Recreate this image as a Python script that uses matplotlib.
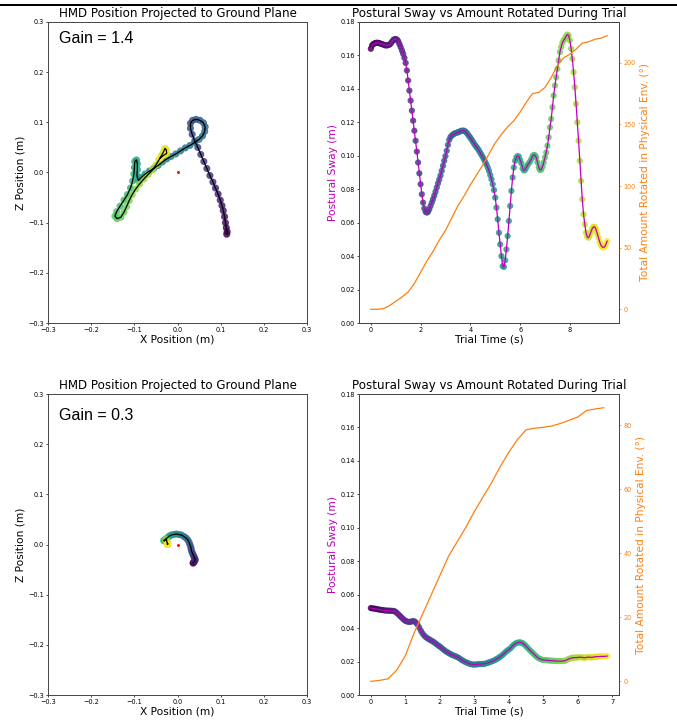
import numpy as np
import matplotlib
matplotlib.use("Agg")
import matplotlib.pyplot as plt
from matplotlib.patches import Rectangle

# ---------------- data ----------------
# Gain 1.4 trial: HMD ground-plane path (m)
pos1_x = [0.114, 0.115, 0.113, 0.111, 0.109, 0.106, 0.103, 0.099, 0.094, 0.088,
          0.082, 0.075, 0.068, 0.061, 0.054, 0.047, 0.040, 0.034, 0.030, 0.030,
          0.035, 0.043, 0.052, 0.060, 0.064, 0.063, 0.058, 0.050, 0.040, 0.029,
          0.018, 0.007, -0.004, -0.015, -0.025, -0.035, -0.045, -0.055, -0.065, -0.075,
          -0.084, -0.091, -0.094, -0.093, -0.093, -0.095, -0.099, -0.100, -0.101, -0.104,
          -0.109, -0.116, -0.124, -0.133, -0.141, -0.145, -0.140, -0.131, -0.124, -0.118,
          -0.112, -0.105, -0.097, -0.088, -0.078, -0.068, -0.058, -0.050, -0.043, -0.037,
          -0.032, -0.029, -0.026, -0.025, -0.031, -0.040]
pos1_z = [-0.123, -0.118, -0.110, -0.100, -0.088, -0.076, -0.066, -0.055, -0.043, -0.031,
          -0.019, -0.006, 0.008, 0.022, 0.036, 0.050, 0.063, 0.076, 0.088, 0.098,
          0.104, 0.106, 0.104, 0.099, 0.091, 0.082, 0.073, 0.066, 0.060, 0.054,
          0.049, 0.043, 0.037, 0.032, 0.027, 0.021, 0.014, 0.008, 0.003, -0.003,
          -0.010, -0.016, -0.006, 0.006, 0.017, 0.025, 0.022, 0.010, -0.003, -0.017,
          -0.031, -0.044, -0.055, -0.067, -0.078, -0.087, -0.092, -0.089, -0.079, -0.068,
          -0.056, -0.044, -0.033, -0.023, -0.013, -0.004, 0.005, 0.015, 0.025, 0.034,
          0.042, 0.048, 0.045, 0.038, 0.035, 0.029]

# Gain 0.3 trial: HMD ground-plane path (m)
pos2_x = [0.036, 0.037, 0.039, 0.041, 0.040, 0.038, 0.036, 0.034, 0.032, 0.031,
          0.029, 0.027, 0.024, 0.020, 0.015, 0.009, 0.003, -0.003, -0.009, -0.014,
          -0.019, -0.023, -0.027, -0.030, -0.032, -0.031, -0.029, -0.027, -0.026, -0.025,
          -0.025, -0.024, -0.023, -0.022, -0.023, -0.024, -0.023]
pos2_z = [-0.037, -0.036, -0.034, -0.031, -0.028, -0.024, -0.020, -0.016, -0.011, -0.006,
          -0.001, 0.004, 0.009, 0.013, 0.016, 0.019, 0.020, 0.021, 0.020, 0.019,
          0.017, 0.014, 0.011, 0.009, 0.008, 0.007, 0.008, 0.010, 0.011, 0.009,
          0.006, 0.004, 0.002, 0.001, 0.000, 0.001, 0.002]

# Postural sway (m), sampled every 0.05 s
sway_dt = 0.05
sway1 = [0.1640, 0.1660, 0.1668, 0.1672, 0.1675, 0.1676, 0.1675, 0.1673, 0.1670, 0.1668,
         0.1665, 0.1662, 0.1660, 0.1660, 0.1662, 0.1665, 0.1672, 0.1682, 0.1692, 0.1697,
         0.1698, 0.1695, 0.1685, 0.1668, 0.1650, 0.1630, 0.1610, 0.1585, 0.1555, 0.1510,
         0.1450, 0.1390, 0.1330, 0.1270, 0.1210, 0.1150, 0.1090, 0.1025, 0.0960, 0.0895,
         0.0830, 0.0770, 0.0720, 0.0685, 0.0665, 0.0660, 0.0665, 0.0680, 0.0700, 0.0720,
         0.0740, 0.0762, 0.0785, 0.0810, 0.0835, 0.0858, 0.0882, 0.0910, 0.0940, 0.0970,
         0.0998, 0.1030, 0.1065, 0.1095, 0.1112, 0.1120, 0.1127, 0.1132, 0.1135, 0.1138,
         0.1140, 0.1143, 0.1147, 0.1150, 0.1150, 0.1150, 0.1145, 0.1138, 0.1128, 0.1118,
         0.1108, 0.1097, 0.1085, 0.1073, 0.1062, 0.1052, 0.1042, 0.1030, 0.1018, 0.1005,
         0.0992, 0.0978, 0.0963, 0.0948, 0.0930, 0.0910, 0.0885, 0.0860, 0.0830, 0.0795,
         0.0750, 0.0690, 0.0620, 0.0540, 0.0470, 0.0400, 0.0340, 0.0335, 0.0375, 0.0440,
         0.0520, 0.0610, 0.0700, 0.0790, 0.0870, 0.0930, 0.0970, 0.0990, 0.0998, 0.0995,
         0.0975, 0.0955, 0.0925, 0.0912, 0.0915, 0.0930, 0.0945, 0.0955, 0.0965, 0.0980,
         0.0998, 0.1005, 0.1003, 0.0990, 0.0960, 0.0930, 0.0915, 0.0918, 0.0935, 0.0960,
         0.0990, 0.1020, 0.1060, 0.1110, 0.1170, 0.1220, 0.1290, 0.1360, 0.1420, 0.1470,
         0.1520, 0.1570, 0.1620, 0.1650, 0.1675, 0.1690, 0.1700, 0.1715, 0.1725, 0.1720,
         0.1690, 0.1640, 0.1580, 0.1500, 0.1410, 0.1310, 0.1200, 0.1090, 0.0970, 0.0850,
         0.0740, 0.0650, 0.0590, 0.0540, 0.0515, 0.0510, 0.0525, 0.0545, 0.0565, 0.0575,
         0.0575, 0.0560, 0.0535, 0.0510, 0.0485, 0.0465, 0.0455, 0.0452, 0.0455, 0.0470,
         0.0490]
sway2 = [0.0520, 0.0518, 0.0517, 0.0515, 0.0513, 0.0511, 0.0509, 0.0508, 0.0506, 0.0505,
         0.0505, 0.0504, 0.0504, 0.0503, 0.0500, 0.0492, 0.0482, 0.0472, 0.0462, 0.0452,
         0.0444, 0.0440, 0.0437, 0.0438, 0.0441, 0.0442, 0.0435, 0.0422, 0.0405, 0.0385,
         0.0368, 0.0355, 0.0345, 0.0338, 0.0332, 0.0326, 0.0320, 0.0313, 0.0305, 0.0297,
         0.0290, 0.0282, 0.0273, 0.0265, 0.0258, 0.0252, 0.0246, 0.0240, 0.0236, 0.0232,
         0.0228, 0.0222, 0.0215, 0.0208, 0.0202, 0.0197, 0.0192, 0.0188, 0.0185, 0.0183,
         0.0182, 0.0183, 0.0184, 0.0185, 0.0185, 0.0186, 0.0187, 0.0190, 0.0193, 0.0197,
         0.0201, 0.0205, 0.0210, 0.0216, 0.0222, 0.0229, 0.0237, 0.0246, 0.0256, 0.0265,
         0.0272, 0.0280, 0.0292, 0.0302, 0.0309, 0.0313, 0.0315, 0.0314, 0.0310, 0.0302,
         0.0292, 0.0281, 0.0270, 0.0260, 0.0250, 0.0240, 0.0230, 0.0222, 0.0216, 0.0212,
         0.0210, 0.0209, 0.0208, 0.0207, 0.0206, 0.0205, 0.0205, 0.0204, 0.0203, 0.0203,
         0.0203, 0.0203, 0.0204, 0.0207, 0.0212, 0.0217, 0.0221, 0.0223, 0.0224, 0.0224,
         0.0225, 0.0226, 0.0226, 0.0224, 0.0223, 0.0225, 0.0227, 0.0226, 0.0225, 0.0227,
         0.0229, 0.0229, 0.0230, 0.0231, 0.0231, 0.0231, 0.0232, 0.0233]

# Total amount rotated in physical environment (deg), sampled every 0.25 s
rot_dt = 0.25
rot1 = [0, 0, 0.5, 3, 6.5, 10, 14, 21, 30, 39, 47, 56, 64, 74, 84, 92, 101, 109, 117, 126,
        135, 142, 148, 153, 160, 168, 175, 176, 180, 188, 198, 204, 207, 211, 216, 217,
        219, 220, 222]
rot2 = [0, 0.3, 0.8, 3.5, 8, 15, 21, 27, 33, 39, 43.5, 48, 53, 57.5, 62, 67, 71.5, 75.5,
        78.5, 79, 79.3, 79.7, 80.5, 81.5, 82.5, 84.5, 85, 85.4]

gains = ["Gain = 1.4", "Gain = 0.3"]
pos_ticks = [-0.3, -0.2, -0.1, 0.0, 0.1, 0.2, 0.3]
sway_ticks = [0.00, 0.02, 0.04, 0.06, 0.08, 0.10, 0.12, 0.14, 0.16, 0.18]

# ---------------- styling ----------------
TICK = 4.7
LAB = 7.7
TIT = 8.6
plt.rcParams.update({
    "xtick.labelsize": TICK, "ytick.labelsize": TICK,
    "xtick.major.size": 1.6, "ytick.major.size": 1.6,
    "xtick.major.width": 0.5, "ytick.major.width": 0.5,
    "xtick.major.pad": 1.5, "ytick.major.pad": 1.5,
    "axes.linewidth": 0.7, "axes.edgecolor": "#444444",
})

fig = plt.figure(figsize=(6.77, 7.21), dpi=100)
fig.add_artist(Rectangle((0, 0.9917), 1, 0.003, transform=fig.transFigure,
                         color="black", lw=0))

rows = [
    (pos1_x, pos1_z, sway1, rot1, 0.552, 0.9404),
    (pos2_x, pos2_z, sway2, rot2, 0.036, 0.4175),
]
for i, (px, pz, sw, rot, bottom, gy) in enumerate(rows):
    # ---- left: HMD position ----
    axl = fig.add_axes([0.0709, bottom, 0.3826, 0.4175])
    idx = np.arange(len(px))
    axl.scatter(px, pz, c=idx, cmap="viridis", s=26, alpha=0.85, lw=0, zorder=2)
    axl.plot(px, pz, color="black", lw=0.9, zorder=3)
    axl.plot([0], [0], marker=".", color="red", ms=2.2, lw=0, zorder=4)
    axl.set_xlim(-0.3, 0.3)
    axl.set_ylim(-0.3, 0.3)
    axl.set_xticks(pos_ticks)
    axl.set_yticks(pos_ticks)
    axl.set_title("HMD Position Projected to Ground Plane", fontsize=TIT, pad=3.8)
    axl.set_xlabel("X Position (m)", fontsize=LAB, labelpad=1)
    axl.set_ylabel("Z Position (m)", fontsize=LAB, labelpad=2)
    fig.text(0.0871, gy, gains[i], fontsize=11.5, family="Liberation Sans",
             va="baseline", ha="left")

    # ---- right: sway vs rotation ----
    axr = fig.add_axes([0.5303, bottom, 0.384, 0.4175])
    t = np.arange(len(sw)) * sway_dt
    axr.scatter(t, sw, c=np.arange(len(sw)), cmap="viridis", s=20, alpha=0.85,
                lw=0, zorder=2)
    axr.plot(t, sw, color="m", lw=0.9, zorder=3)
    axr.set_ylim(0, 0.18)
    axr.set_yticks(sway_ticks)
    axr.set_title("Postural Sway vs Amount Rotated During Trial", fontsize=TIT, pad=3.8)
    axr.set_xlabel("Trial Time (s)", fontsize=LAB, labelpad=1)
    axr.set_ylabel("Postural Sway (m)", fontsize=LAB, color="m", labelpad=2)

    ax2 = axr.twinx()
    tr = np.arange(len(rot)) * rot_dt
    ax2.plot(tr, rot, color="tab:orange", lw=0.9)
    ax2.tick_params(axis="y", colors="tab:orange")
    ax2.spines["right"].set_color("#444444")
    ax2.set_ylabel("Total Amount Rotated in Physical Env. (°)", fontsize=LAB,
                   color="tab:orange", labelpad=3)

fig.savefig("out.png", dpi=100)
